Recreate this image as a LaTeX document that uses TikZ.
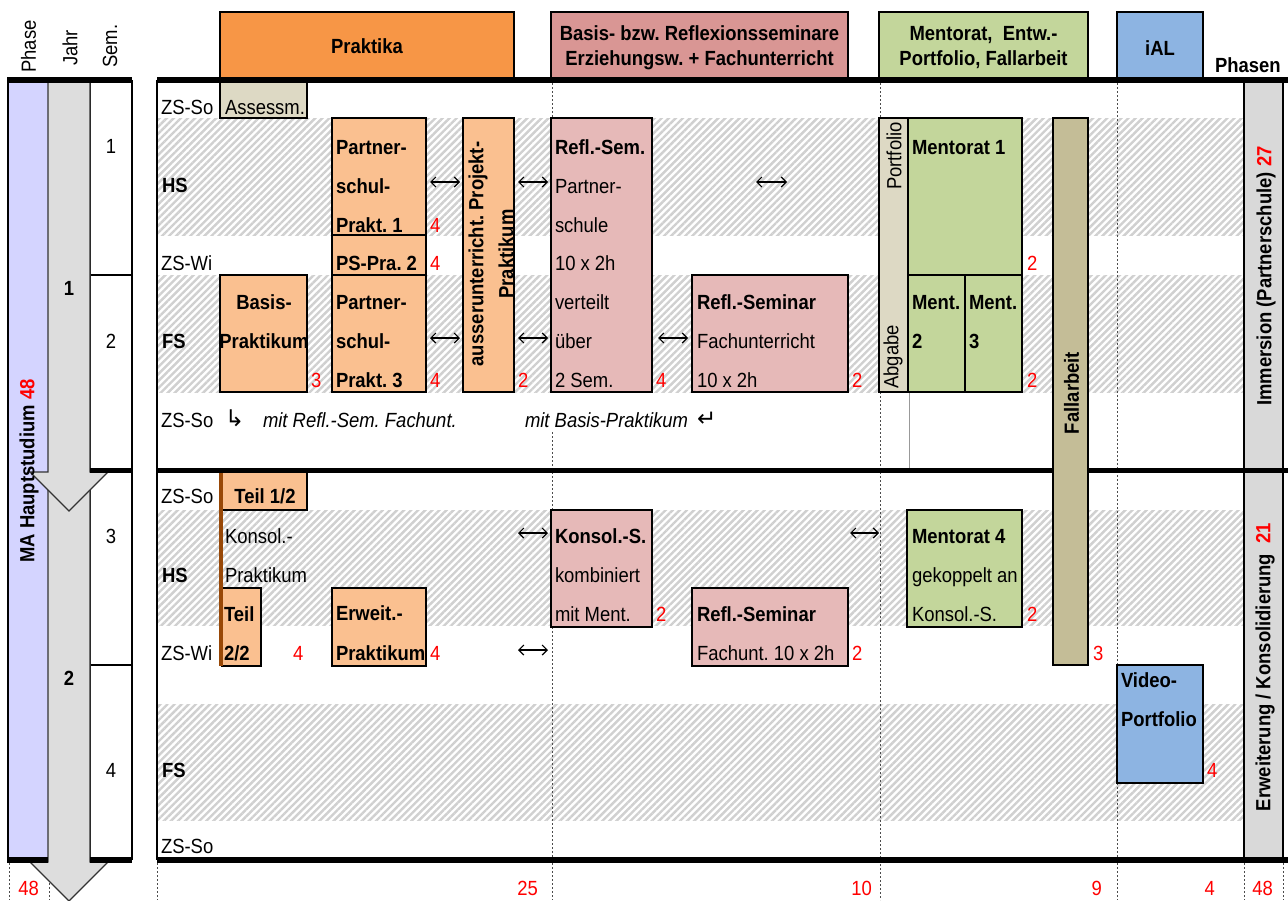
\documentclass[tikz,border=0pt]{standalone}
\usepackage{fontspec}
\setmainfont{Liberation Sans}[FakeStretch=0.9]
\newfontfamily\symfont{DejaVu Sans}
\usetikzlibrary{patterns.meta,arrows.meta}
\definecolor{cOrange}{RGB}{247,150,70}
\definecolor{cOrL}{RGB}{250,192,144}
\definecolor{cPinkD}{RGB}{217,150,148}
\definecolor{cPinkL}{RGB}{230,185,184}
\definecolor{cGreen}{RGB}{195,214,155}
\definecolor{cBlue}{RGB}{141,180,226}
\definecolor{cBeige}{RGB}{221,217,196}
\definecolor{cKhaki}{RGB}{196,189,151}
\definecolor{cGray}{RGB}{217,217,217}
\definecolor{cArrow}{RGB}{221,221,221}
\definecolor{cLav}{RGB}{212,212,255}
\definecolor{cBrown}{RGB}{152,72,7}
\definecolor{cHatch}{RGB}{208,208,208}
\tikzset{
  box/.style={draw=black,line width=1.5pt,inner sep=0pt,outer sep=0pt,anchor=north west},
  t/.style={anchor=base west,inner sep=0pt,outer sep=0pt},
  tb/.style={t,font=\bfseries},
  ti/.style={t,font=\itshape},
  tc/.style={anchor=base,inner sep=0pt},
  tcb/.style={tc,font=\bfseries},
  rn/.style={t,text=red},
  rr/.style={anchor=base east,inner sep=0pt,text=red},
  hatch/.style={pattern={Lines[angle=45,distance=5pt,line width=2.4pt]},pattern color=cHatch},
  lr/.style={{Straight Barb[length=5pt,width=10pt]}-{Straight Barb[length=5pt,width=10pt]},line width=1.2pt},
  dl/.style={draw=black!70,line width=0.9pt,dash pattern=on 2pt off 2pt},
  heavy/.style={line width=5.5pt},
  arrowshape/.style={fill=cArrow,draw=black!80,line width=1.2pt},
  sym/.style={t,font=\symfont\fontsize{23}{26}\selectfont},
}
\newcommand\mkbox[6]{\node[box,fill=#2,minimum width=#5-#3,minimum height=#6-#4] (#1) at (#3,#4) {};}
\begin{document}
\begin{tikzpicture}[x=1pt,y=-1pt]
\fontsize{20.5}{24}\selectfont\frenchspacing
\useasboundingbox (0,0) rectangle (1288,900);
\fill[white] (0,0) rectangle (1288,900);
% hatched rows
\foreach \a/\b in {118/235,275/392,510/625,704/820}
  \fill[hatch] (157,\a) rectangle (1244,\b);
% dotted column lines
\draw[dl] (552,83)--(552,118) (552,432)--(552,510) (552,627)--(552,900);
\draw[dl] (880,83)--(880,118) (880,392)--(880,900);
\draw[dl] (1117,83)--(1117,665) (1117,783)--(1117,900);
\draw[dl] (9,863)--(9,900) (49,863)--(49,900) (157,863)--(157,900) (1244,863)--(1244,900) (1283,863)--(1283,900);
\draw[black!40,line width=0.8pt] (909,392)--(909,468);
% left columns
\fill[cLav] (8,80) rectangle (48,860);
\draw[line width=1.5pt] (8,80)--(8,860);
\fill[white] (90,80) rectangle (132,860);
\draw[line width=1.5pt] (90,80)--(90,860) (132,80)--(132,860);
\draw[line width=1.2pt] (90,275)--(132,275) (90,665)--(132,665);
\draw[arrowshape] (48,472)--(48,862)--(30,862)--(69,901)--(108,862)--(90,862)--(90,472);
\draw[arrowshape] (48,80)--(48,472)--(30,472)--(69,511)--(108,472)--(90,472)--(90,80);
% phasen column
\fill[cGray] (1244,80) rectangle (1283,860);
\draw[line width=1.5pt] (1244,80)--(1244,860) (1283,80)--(1283,860);
\draw[line width=1.5pt] (157,80)--(157,860);
% header boxes
\mkbox{hPrak}{cOrange}{220}{12}{514}{78}
\mkbox{hRefl}{cPinkD}{551}{12}{848}{78}
\mkbox{hMent}{cGreen}{879}{12}{1088}{78}
\mkbox{hIAL}{cBlue}{1117}{12}{1203}{78}
% content boxes
\mkbox{bAss}{cBeige}{220}{80}{307}{118}
\mkbox{bBasis}{cOrL}{220}{275}{307}{392}
\mkbox{bP1}{cOrL}{332}{118}{426}{235}
\mkbox{bPS2}{cOrL}{332}{235}{426}{275}
\mkbox{bP3}{cOrL}{332}{275}{426}{392}
\mkbox{bAus}{cOrL}{463}{118}{514}{392}
\mkbox{bRS}{cPinkL}{551}{118}{652}{392}
\mkbox{bRF}{cPinkL}{692}{275}{848}{392}
\mkbox{bPort}{cBeige}{879}{118}{908}{392}
\mkbox{bM1}{cGreen}{908}{118}{1022}{275}
\mkbox{bM2}{cGreen}{908}{275}{965}{392}
\mkbox{bM3}{cGreen}{965}{275}{1022}{392}
\mkbox{bT1}{cOrL}{222}{470}{307}{510}
\mkbox{bT2}{cOrL}{222}{588}{261}{666}
\mkbox{bErw}{cOrL}{332}{588}{426}{666}
\mkbox{bKon}{cPinkL}{551}{510}{652}{627}
\mkbox{bRF2}{cPinkL}{692}{588}{848}{666}
\mkbox{bM4}{cGreen}{907}{510}{1022}{627}
\mkbox{bVid}{cBlue}{1117}{665}{1203}{783}
\draw[cBrown,line width=3.5pt] ([xshift=-1pt]bT1.north west)--([xshift=-1pt]bT2.south west);
% heavy lines
\draw[heavy] (7,80)--(132,80) (157,80)--(1288,80);
\draw[heavy] (90,470.5)--(132,470.5) (157,470.5)--(1288,470.5);
\draw[heavy] (7,860)--(48,860) (90,860)--(132,860) (157,860)--(1288,860);
\mkbox{bFall}{cKhaki}{1053}{118}{1088}{665}
% column headings
\node[rotate=90,anchor=west,inner sep=0pt] (tPhase) at (28.5,73) {Phase};
\node[rotate=90,anchor=west,inner sep=0pt] (tJahr) at (70,66) {Jahr};
\node[rotate=90,anchor=west,inner sep=0pt] (tSem) at (110,68) {Sem.};
\node[tcb] (tPrak) at (367,53) {Praktika};
\node[tcb] (tRefl1) at (699.5,40) {Basis- bzw. Reflexionsseminare};
\node[tcb] (tRefl2) at (699.5,65) {Erziehungsw. + Fachunterricht};
\node[tcb] (tMent1) at (983.5,40) {Mentorat,~ Entw.-};
\node[tcb] (tMent2) at (983.5,65) {Portfolio, Fallarbeit};
\node[tcb] (tIAL) at (1160,55) {iAL};
\node[tb] (tPhasen) at (1215,72) {Phasen};
% year / semester numbers
\node[tc] (sem1) at (111,153) {1};
\node[tc] (sem2) at (111,348) {2};
\node[tc] (sem3) at (111,543) {3};
\node[tc] (sem4) at (111,777) {4};
\node[tcb] (jahr1) at (69,295) {1};
\node[tcb] (jahr2) at (69,685) {2};
\node[rotate=90,inner sep=0pt,font=\bfseries] (tMA) at (29,471) {MA Hauptstudium \textcolor{red}{48}};
\node[rotate=90,inner sep=0pt,font=\bfseries] (tImm) at (1266,276) {Immersion (Partnerschule) \textcolor{red}{27}};
\node[rotate=90,inner sep=0pt,font=\bfseries] (tErw) at (1265,667) {Erweiterung / Konsolidierung~ \textcolor{red}{21}};
% row labels
\node[t] (r1) at (161,114) {ZS-So};
\node[tb] (r2) at (162,192) {HS};
\node[t] (r3) at (161,270) {ZS-Wi};
\node[tb] (r4) at (162,348) {FS};
\node[t] (r5) at (161,427) {ZS-So};
\node[t] (r6) at (161,503) {ZS-So};
\node[tb] (r7) at (162,582) {HS};
\node[t] (r8) at (161,660) {ZS-Wi};
\node[tb] (r9) at (162,777) {FS};
\node[t] (r10) at (161,853) {ZS-So};
% box texts, year 1
\node[t] (xAss) at (225,114) {Assessm.};
\node[tcb] (xBa1) at (264,309) {Basis-};
\node[tcb] (xBa2) at (264,348) {Praktikum};
\node[rn] (nBa) at (311,387) {3};
\node[tb] (xP11) at (336,154) {Partner-};
\node[tb] (xP12) at (336,193) {schul-};
\node[tb] (xP13) at (336,232) {Prakt. 1};
\node[rn] (nP1) at (430,232) {4};
\node[tb] (xPS2) at (336,270) {PS-Pra. 2};
\node[rn] (nPS2) at (430,270) {4};
\node[tb] (xP31) at (336,309) {Partner-};
\node[tb] (xP32) at (336,348) {schul-};
\node[tb] (xP33) at (336,387) {Prakt. 3};
\node[rn] (nP3) at (430,387) {4};
\node[rotate=90,inner sep=0pt,align=center,font=\fontsize{20.5}{30}\selectfont\bfseries] (xAus) at (491,254) {ausserunterricht. Projekt-\\Praktikum};
\node[rn] (nAus) at (518,387) {2};
\node[tb] (xRS1) at (555,154) {Refl.-Sem.};
\node[t] (xRS2) at (555,193) {Partner-};
\node[t] (xRS3) at (555,232) {schule};
\node[t] (xRS4) at (555,270) {10 x 2h};
\node[t] (xRS5) at (555,309) {verteilt};
\node[t] (xRS6) at (555,348) {über};
\node[t] (xRS7) at (555,387) {2 Sem.};
\node[rn] (nRS) at (656,387) {4};
\node[tb] (xRF1) at (697,309) {Refl.-Seminar};
\node[t] (xRF2) at (697,348) {Fachunterricht};
\node[t] (xRF3) at (697,387) {10 x 2h};
\node[rn] (nRF) at (852,387) {2};
\node[rotate=90,anchor=east,inner sep=0pt] (xPort) at (894,122) {Portfolio};
\node[rotate=90,anchor=west,inner sep=0pt] (xAbg) at (893,389) {Abgabe};
\node[tb] (xM1) at (912,154) {Mentorat 1};
\node[rn] (nM1) at (1027,270) {2};
\node[tb] (xM21) at (912,309) {Ment.};
\node[tb] (xM22) at (912,348) {2};
\node[tb] (xM31) at (969,309) {Ment.};
\node[tb] (xM32) at (969,348) {3};
\node[rn] (nM3) at (1027,387) {2};
\node[rotate=90,inner sep=0pt,font=\bfseries] (xFall) at (1071.5,393) {Fallarbeit};
\node[rn] (nFall) at (1093,660) {3};
\node[sym] (sy1) at (225,426) {↳};
\node[ti] (xMit1) at (263,427) {mit Refl.-Sem. Fachunt.};
\node[ti] (xMit2) at (525,427) {mit Basis-Praktikum};
\node[sym] (sy2) at (697,426) {↵};
% box texts, year 2
\node[tcb] (xT1) at (265,503) {Teil 1/2};
\node[t] (xKP1) at (225,543) {Konsol.-};
\node[t] (xKP2) at (225,582) {Praktikum};
\node[tb] (xT21) at (224,621) {Teil};
\node[tb] (xT22) at (224,660) {2/2};
\node[rn] (nT2) at (293,660) {4};
\node[tb] (xE1) at (336,620) {Erweit.-};
\node[tb] (xE2) at (336,660) {Praktikum};
\node[rn] (nE) at (430,660) {4};
\node[tb] (xK1) at (555,543) {Konsol.-S.};
\node[t] (xK2) at (555,582) {kombiniert};
\node[t] (xK3) at (555,621) {mit Ment.};
\node[rn] (nK) at (656,621) {2};
\node[tb] (xR21) at (697,621) {Refl.-Seminar};
\node[t] (xR22) at (697,660) {Fachunt. 10 x 2h};
\node[rn] (nR2) at (852,660) {2};
\node[tb] (xM41) at (912,543) {Mentorat 4};
\node[t] (xM42) at (912,582) {gekoppelt an};
\node[t] (xM43) at (912,621) {Konsol.-S.};
\node[rn] (nM4) at (1027,621) {2};
\node[tb] (xV1) at (1121,687) {Video-};
\node[tb] (xV2) at (1121,726) {Portfolio};
\node[rn] (nV) at (1207,777) {4};
% double arrows
\draw[lr] (430,182) coordinate (a1l) -- (460,182) coordinate (a1r);
\draw[lr] (518,182) coordinate (a2l) -- (548,182) coordinate (a2r);
\draw[lr] (756,182) coordinate (a3l) -- (787,182) coordinate (a3r);
\draw[lr] (430,338) coordinate (a4l) -- (460,338) coordinate (a4r);
\draw[lr] (518,338) coordinate (a5l) -- (548,338) coordinate (a5r);
\draw[lr] (658,338) coordinate (a6l) -- (688,338) coordinate (a6r);
\draw[lr] (518,533) coordinate (a7l) -- (548,533) coordinate (a7r);
\draw[lr] (850,533) coordinate (a8l) -- (879,533) coordinate (a8r);
\draw[lr] (518,650) coordinate (a9l) -- (548,650) coordinate (a9r);
% sums
\node[rr] (s48a) at (39,895) {48};
\node[rr] (s25) at (538,895) {25};
\node[rr] (s10) at (872,895) {10};
\node[rr] (s9) at (1102,895) {9};
\node[rr] (s4) at (1215,895) {4};
\node[rr] (s48b) at (1273,895) {48};
\end{tikzpicture}
\end{document}
